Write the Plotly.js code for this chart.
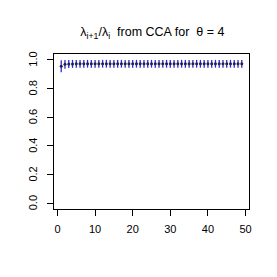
<!DOCTYPE html>
<html><head><meta charset="utf-8">
<script src="https://cdn.plot.ly/plotly-3.0.1.min.js"></script>
<style>body{margin:0;background:#fff}#c{width:277px;height:277px}</style>
</head><body><div id="c"></div>
<script>
const idx = Array.from({length:49},(_,i)=>i+1);
const ratio = [0.955,0.968,0.970,0.971,0.972,0.972,0.972,0.972,0.972,0.972,
0.972,0.972,0.972,0.972,0.972,0.972,0.972,0.972,0.972,0.972,
0.972,0.972,0.972,0.972,0.972,0.972,0.972,0.972,0.972,0.972,
0.972,0.972,0.972,0.972,0.972,0.972,0.972,0.972,0.972,0.972,
0.972,0.972,0.972,0.972,0.972,0.972,0.972,0.972,0.972];
const err = [0.042,0.030,0.028,0.028,0.027,0.027,0.027,0.027,0.027,0.027,
0.027,0.027,0.027,0.027,0.027,0.027,0.027,0.027,0.027,0.027,
0.027,0.027,0.027,0.027,0.027,0.027,0.027,0.027,0.027,0.027,
0.027,0.027,0.027,0.027,0.027,0.027,0.027,0.027,0.027,0.027,
0.027,0.027,0.027,0.027,0.027,0.027,0.027,0.027,0.027];
const xticks=[0,10,20,30,40,50];
const yticks=[0,0.2,0.4,0.6,0.8,1.0];
const yticktext=['0.0','0.2','0.4','0.6','0.8','1.0'];
const font={family:'Liberation Sans, Arial',size:11,color:'#000'};
const trace={x:idx,y:ratio,type:'scatter',mode:'markers',
 marker:{size:3,color:'#222244'},
 error_y:{type:'data',array:err,visible:true,color:'#2a2ae0',thickness:1.3,width:0}};
const ax={showgrid:false,zeroline:false,showline:true,mirror:true,linecolor:'#000',linewidth:1,
 ticks:'outside',ticklen:6,tickcolor:'#000',tickfont:font};
const ann=yticks.map((v,i)=>({x:0,xref:'paper',xanchor:'center',xshift:-21,y:v,yref:'y',yanchor:'middle',
 text:yticktext[i],textangle:-90,showarrow:false,font:font}));
const layout={width:277,height:277,margin:{l:54,r:28,t:54,b:68},
 paper_bgcolor:'#fff',plot_bgcolor:'#fff',showlegend:false,annotations:ann,
 title:{text:'λ<sub>i+1</sub>/λ<sub>i</sub>  from CCA for  θ = 4',x:0.55,xanchor:'center',y:0.885,yanchor:'middle',
  font:{family:'Liberation Sans, Arial',size:12.5,color:'#000'}},
 xaxis:Object.assign({},ax,{range:[-0.92,50.92],tickvals:xticks,ticklabelstandoff:4}),
 yaxis:Object.assign({},ax,{range:[-0.04,1.04],tickvals:yticks,showticklabels:false})};
Plotly.newPlot('c',[trace],layout,{displayModeBar:false,staticPlot:true});
</script></body></html>
